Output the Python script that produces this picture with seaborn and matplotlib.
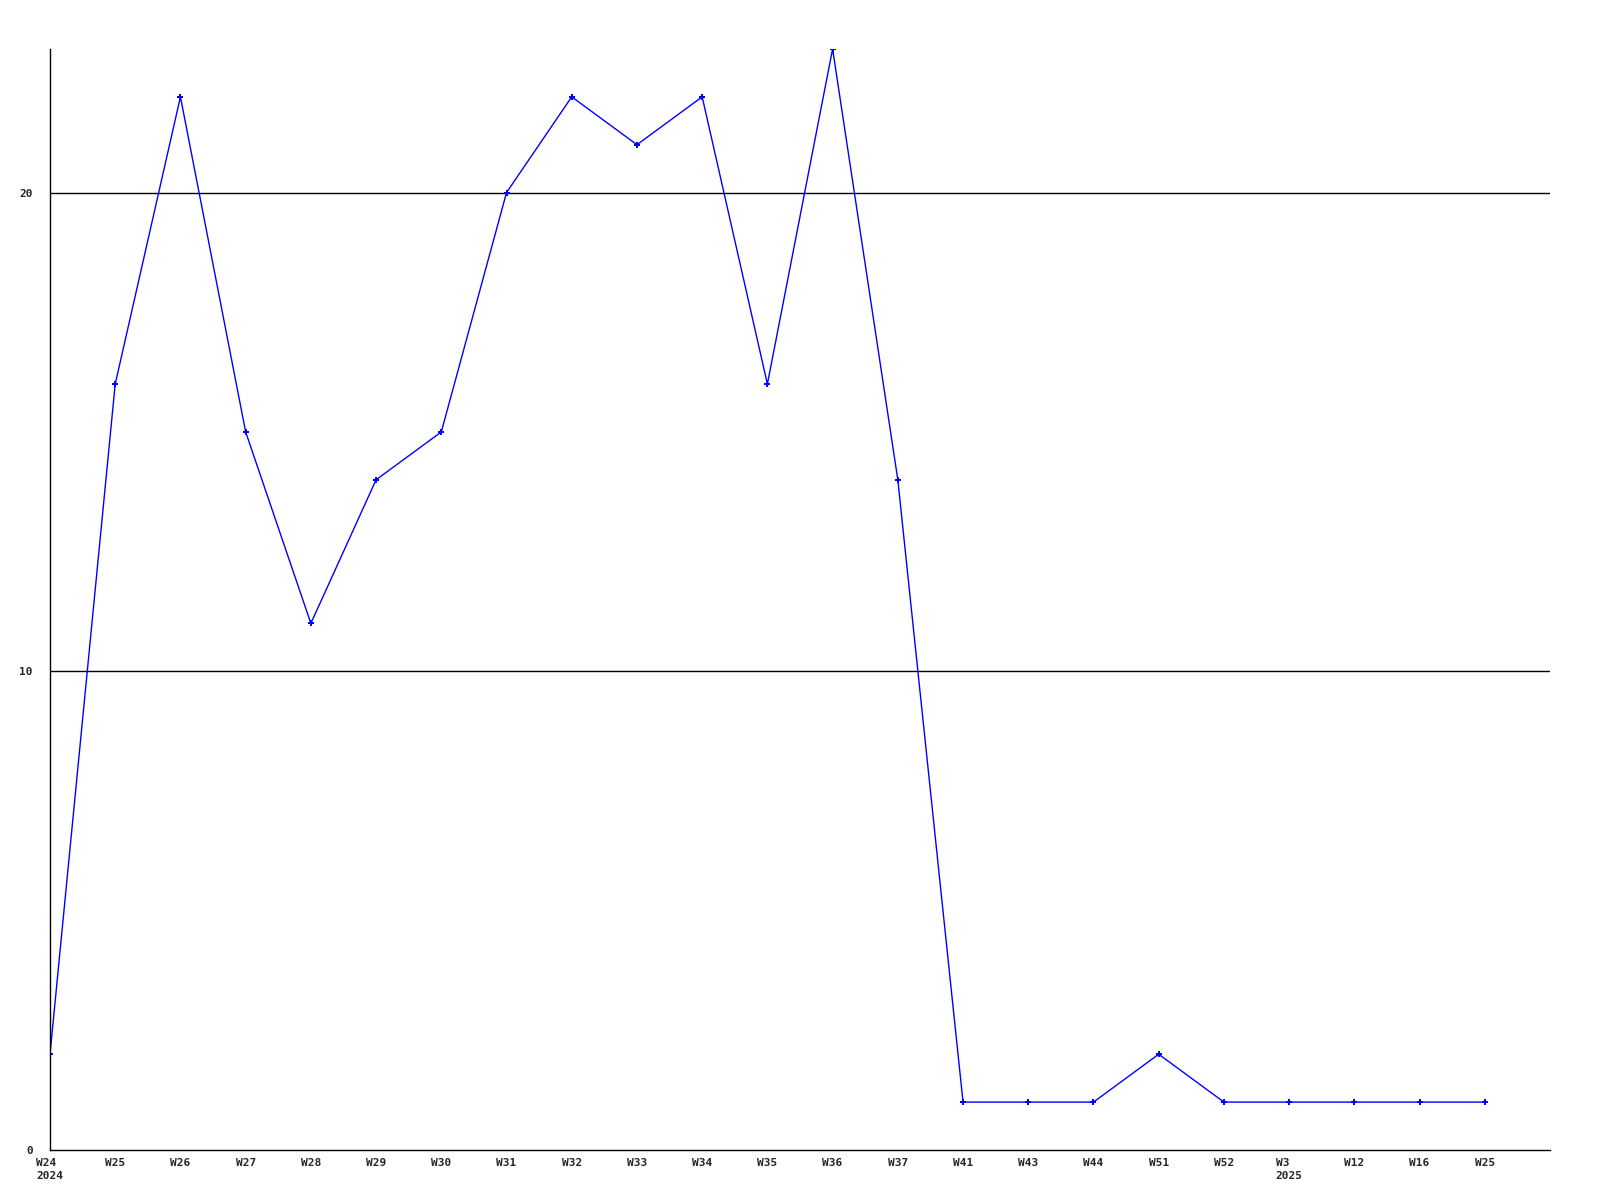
import matplotlib
matplotlib.use("Agg")
import matplotlib.pyplot as plt
import seaborn as sns
import pandas as pd

weeks = ["W24", "W25", "W26", "W27", "W28", "W29", "W30", "W31", "W32", "W33",
         "W34", "W35", "W36", "W37", "W41", "W43", "W44", "W51", "W52", "W3",
         "W12", "W16", "W25"]
years = ["2024", "", "", "", "", "", "", "", "", "", "", "", "", "", "", "", "",
         "", "", "2025", "", "", ""]
counts = [2, 16, 22, 15, 11, 14, 15, 20, 22, 21, 22, 16, 23, 14, 1, 1, 1, 2, 1,
          1, 1, 1, 1]
y_ticks = [0, 10, 20]

sns.set_style("white")
plt.rcParams["font.family"] = ["DejaVu Sans Mono"]

df = pd.DataFrame({"idx": range(len(counts)), "count": counts})

fig = plt.figure(figsize=(16, 12), dpi=100)
ax = fig.add_axes([0.03125, 0.0417, 0.9375, 0.9175])

sns.lineplot(data=df, x="idx", y="count", ax=ax, color="blue", lw=1,
             marker="P", markersize=4, markeredgewidth=0)

ax.set_xlim(0, len(counts))
ax.set_ylim(0, max(counts))
ax.set_xticks(range(len(counts)))
ax.set_xticklabels([f"{w}\n{y}" if y else w for w, y in zip(weeks, years)],
                   fontsize=8, fontweight="bold", va="top", linespacing=1.3)
ax.set_yticks(y_ticks)
ax.set_yticklabels([str(t) for t in y_ticks], fontsize=8, fontweight="bold")
ax.tick_params(axis="x", length=0, pad=6)
ax.tick_params(axis="y", length=0, pad=12.5)
for lbl in ax.get_xticklabels():
    lbl.set_horizontalalignment("center")
    lbl.set_multialignment("left")

for t in y_ticks[1:]:
    ax.axhline(t, color="black", lw=1, zorder=0)

for side in ["top", "right"]:
    ax.spines[side].set_visible(False)
for side in ["left", "bottom"]:
    ax.spines[side].set_color("black")
    ax.spines[side].set_linewidth(1)

ax.set_xlabel("")
ax.set_ylabel("")

fig.savefig("out.png", dpi=100)
